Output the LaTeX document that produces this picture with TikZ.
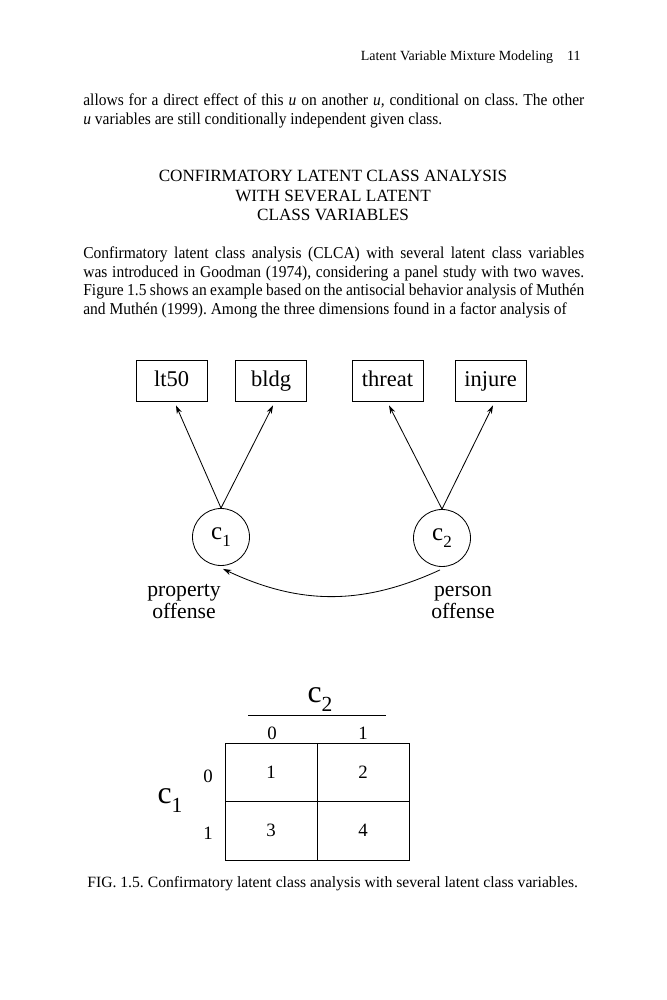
\documentclass[tikz,border=0pt]{standalone}
\usepackage{fontspec}
\usepackage{graphicx}
\setmainfont{Liberation Serif}
\newfontfamily\bookfont{Liberation Serif}[FakeStretch=0.93]
\usetikzlibrary{arrows.meta, calc}

% lowered index, as set in the figure
\newcommand{\lowidx}[1]{\raisebox{-0.3em}{\scalebox{0.68}{#1}}}

\begin{document}
\begin{tikzpicture}[
    x=0.6pt, y=-0.6pt,
    indicator/.style={draw, line width=0.5pt, minimum width=42.6pt, minimum height=24.6pt,
                 inner sep=0pt, text height=0.68em, text depth=0em,
                 font=\fontsize{13.5}{13.5}\selectfont},
    latent/.style={draw, circle, line width=0.5pt, minimum size=34.2pt, inner sep=0pt,
                 font=\fontsize{15}{15}\selectfont},
    lbl/.style={align=center, inner sep=0pt, anchor=base, font=\fontsize{13}{10.8}\selectfont},
    cell/.style={draw, line width=0.5pt, minimum width=55.2pt, minimum height=35.1pt,
                 inner sep=0pt, font=\fontsize{11.3}{11.3}\selectfont},
    num/.style={inner sep=0pt, anchor=base, font=\fontsize{11.3}{11.3}\selectfont},
    body/.style={text width=300.6pt, align=justify, inner sep=0pt, anchor=base west,
                 font=\bookfont\fontsize{10}{11.1}\selectfont},
    arr/.style={-{Stealth[length=5pt, width=3.2pt]}, line width=0.5pt},
  ]
  \useasboundingbox (0,0) rectangle (666,1000);

  % page text
  \node[inner sep=0pt, anchor=base east, font=\fontsize{8.4}{10}\selectfont] (runhead) at (581,61)
    {Latent Variable Mixture Modeling\quad 11};
  \node[body] (para1) at (83,106)
    {\frenchspacing\hyphenpenalty=10000 \tolerance=9999
     allows for a direct effect of this \emph{u} on another \emph{u,} conditional on class. The other\linebreak
     \emph{u} variables are still conditionally independent given class.};
  \node[inner sep=0pt, anchor=base, align=center, font=\fontsize{10.3}{11.7}\selectfont] (heading) at (333,221)
    {CONFIRMATORY LATENT CLASS ANALYSIS\\ WITH SEVERAL LATENT\\ CLASS VARIABLES};
  \node[body] (para2) at (83,259)
    {\frenchspacing\hyphenpenalty=10000 \tolerance=9999 \parfillskip=0pt
     Confirmatory latent class analysis (CLCA) with several latent class variables\linebreak
     was introduced in Goodman (1974), considering a panel study with two waves.\linebreak
     Figure 1.5 shows an example based on the antisocial behavior analysis of Muthén\linebreak
     and Muthén (1999). Among the three dimensions found in a factor analysis of};

  % indicators
  \node[indicator] (lt50) at (171.5,380.5) {lt50};
  \node[indicator] (bldg) at (271,380.5) {bldg};
  \node[indicator] (threat) at (387.5,380.5) {threat};
  \node[indicator] (injure) at (490.5,380.5) {injure};

  % latent class variables
  \node[latent] (c1) at (221,537) {c\lowidx{1}};
  \node[latent] (c2) at (442,538) {c\lowidx{2}};
  \node[lbl] (prop) at (184,618) {property\\ offense};
  \node[lbl] (pers) at (463,618) {person\\ offense};

  \draw[arr] (c1.north) -- ($(lt50.south)+(4.5,4)$);
  \draw[arr] (c1.north) -- ($(bldg.south)+(2,4)$);
  \draw[arr] (c2.north) -- ($(threat.south)+(1.5,4)$);
  \draw[arr] (c2.north) -- ($(injure.south)+(2.5,4)$);
  \draw[arr, {Stealth[length=5pt, width=3.2pt]}-] ($(c1.south)+(2,3)$) to[bend right=25] ($(c2.south)+(-2,3)$);

  % cross-classification table
  \node[inner sep=0pt, anchor=base, font=\fontsize{19}{19}\selectfont] (c2head) at (320,702) {c\lowidx{2}};
  \coordinate (rulel) at (248,715);
  \coordinate (ruler) at (386,715);
  \draw[line width=0.5pt] (rulel) -- (ruler);
  \node[num] (col0) at (272,739) {0};
  \node[num] (col1) at (363,739) {1};
  \node[cell] (cellA) at (271,772.25) {1};
  \node[cell] (cellB) at (363,772.25) {2};
  \node[cell] (cellC) at (271,830.75) {3};
  \node[cell] (cellD) at (363,830.75) {4};
  \node[num] (row0) at (208,782) {0};
  \node[num] (row1) at (208,839) {1};
  \node[inner sep=0pt, anchor=base, font=\fontsize{19}{19}\selectfont] (c1head) at (170,803) {c\lowidx{1}};

  % caption
  \node[inner sep=0pt, anchor=base west, font=\fontsize{9.4}{10}\selectfont] (caption) at (87,887)
    {\frenchspacing FIG. 1.5. Confirmatory latent class analysis with several latent class variables.};
\end{tikzpicture}
\end{document}
